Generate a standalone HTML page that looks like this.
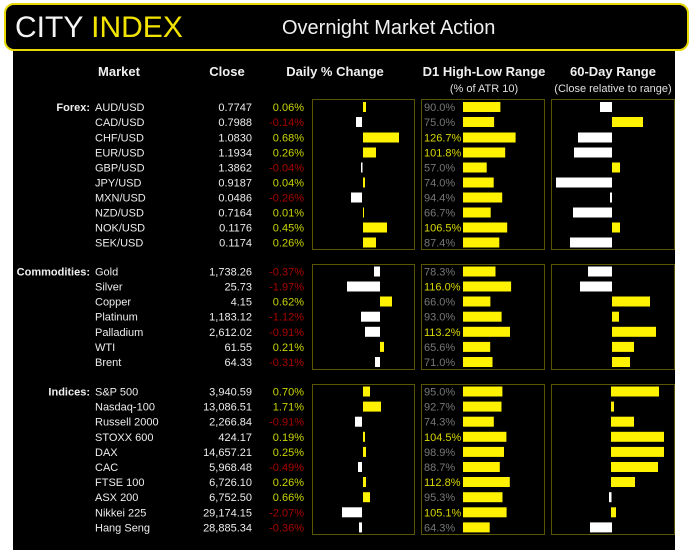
<!DOCTYPE html>
<html><head><meta charset="utf-8"><style>
html,body{margin:0;padding:0;background:#fff;width:697px;height:557px;overflow:hidden}
svg{display:block}
text{font-family:"Liberation Sans",sans-serif}
.n{fill:#ececec;font-size:11px}
.c{fill:#ececec;font-size:11px;text-anchor:end}
.p{fill:#c8d400;font-size:11px;text-anchor:end}
.m{fill:#a80000;font-size:11px;text-anchor:end}
.g{fill:#777;font-size:11px}
.y{fill:#d8d800;font-size:11px}
.h{fill:#f0f0f0;font-size:13px;font-weight:bold;text-anchor:middle}
.s{fill:#e0e0e0;font-size:11px;text-anchor:middle}
.l{fill:#f0f0f0;font-size:11px;font-weight:bold;text-anchor:end}
.b{fill:none;stroke:#5a5500;stroke-width:1}
.Y{fill:#fff200}
.W{fill:#fff}
</style></head><body>
<svg width="697" height="557" viewBox="0 0 697 557">
<rect x="13" y="40" width="662" height="510" fill="#000"/>
<rect x="5" y="4" width="683" height="46" rx="9" fill="#000" stroke="#e6d800" stroke-width="2"/>
<text x="15" y="37" style="font-size:30px" fill="#f4f4f4">CITY <tspan fill="#f2e400">INDEX</tspan></text>
<text x="282" y="34" style="font-size:20px" fill="#f0f0f0">Overnight Market Action</text>

<text class="h" x="119" y="76">Market</text>
<text class="h" x="227" y="76">Close</text>
<text class="h" x="335" y="76">Daily % Change</text>
<text class="h" x="484" y="76">D1 High-Low Range</text>
<text class="h" x="613" y="76">60-Day Range</text>
<text class="s" x="484" y="92">(% of ATR 10)</text>
<text class="s" x="613" y="92">(Close relative to range)</text>

<rect class="b" x="312.5" y="99.5" width="102" height="150"/>
<rect class="b" x="421.5" y="99.5" width="123" height="150"/>
<rect class="b" x="551.5" y="99.5" width="123" height="150"/>
<rect class="b" x="312.5" y="264.5" width="102" height="105"/>
<rect class="b" x="421.5" y="264.5" width="123" height="105"/>
<rect class="b" x="551.5" y="264.5" width="123" height="105"/>
<rect class="b" x="312.5" y="384.5" width="102" height="150"/>
<rect class="b" x="421.5" y="384.5" width="123" height="150"/>
<rect class="b" x="551.5" y="384.5" width="123" height="150"/>

<!-- Forex -->
<text class="l" x="90" y="111">Forex:</text>
<text class="n" x="95" y="111">AUD/USD</text><text class="c" x="252" y="111">0.7747</text><text class="p" x="304" y="111">0.06%</text>
<text class="n" x="95" y="126">CAD/USD</text><text class="c" x="252" y="126">0.7988</text><text class="m" x="304" y="126">-0.14%</text>
<text class="n" x="95" y="141.5">CHF/USD</text><text class="c" x="252" y="141.5">1.0830</text><text class="p" x="304" y="141.5">0.68%</text>
<text class="n" x="95" y="156.5">EUR/USD</text><text class="c" x="252" y="156.5">1.1934</text><text class="p" x="304" y="156.5">0.26%</text>
<text class="n" x="95" y="171.5">GBP/USD</text><text class="c" x="252" y="171.5">1.3862</text><text class="m" x="304" y="171.5">-0.04%</text>
<text class="n" x="95" y="186.5">JPY/USD</text><text class="c" x="252" y="186.5">0.9187</text><text class="p" x="304" y="186.5">0.04%</text>
<text class="n" x="95" y="201.5">MXN/USD</text><text class="c" x="252" y="201.5">0.0486</text><text class="m" x="304" y="201.5">-0.26%</text>
<text class="n" x="95" y="216.5">NZD/USD</text><text class="c" x="252" y="216.5">0.7164</text><text class="p" x="304" y="216.5">0.01%</text>
<text class="n" x="95" y="231.5">NOK/USD</text><text class="c" x="252" y="231.5">0.1176</text><text class="p" x="304" y="231.5">0.45%</text>
<text class="n" x="95" y="246.5">SEK/USD</text><text class="c" x="252" y="246.5">0.1174</text><text class="p" x="304" y="246.5">0.26%</text>

<rect class="Y" x="363" y="102" width="3" height="10"/>
<rect class="W" x="356" y="117" width="6" height="10"/>
<rect class="Y" x="363" y="132.5" width="36" height="10"/>
<rect class="Y" x="363" y="147.5" width="13" height="10"/>
<rect class="W" x="361" y="162.5" width="1.5" height="10"/>
<rect class="Y" x="363" y="177.5" width="2" height="10"/>
<rect class="W" x="351" y="192.5" width="11" height="10"/>
<rect class="Y" x="363" y="207.5" width="1" height="10"/>
<rect class="Y" x="363" y="222.5" width="24" height="10"/>
<rect class="Y" x="363" y="237.5" width="13" height="10"/>

<text class="g" x="424" y="111">90.0%</text><rect class="Y" x="463" y="102" width="37.4" height="10"/>
<text class="g" x="424" y="126">75.0%</text><rect class="Y" x="463" y="117" width="31.1" height="10"/>
<text class="y" x="424" y="141.5">126.7%</text><rect class="Y" x="463" y="132.5" width="52.6" height="10"/>
<text class="y" x="424" y="156.5">101.8%</text><rect class="Y" x="463" y="147.5" width="42.2" height="10"/>
<text class="g" x="424" y="171.5">57.0%</text><rect class="Y" x="463" y="162.5" width="23.7" height="10"/>
<text class="g" x="424" y="186.5">74.0%</text><rect class="Y" x="463" y="177.5" width="30.7" height="10"/>
<text class="g" x="424" y="201.5">94.4%</text><rect class="Y" x="463" y="192.5" width="39.2" height="10"/>
<text class="g" x="424" y="216.5">66.7%</text><rect class="Y" x="463" y="207.5" width="27.7" height="10"/>
<text class="y" x="424" y="231.5">106.5%</text><rect class="Y" x="463" y="222.5" width="44.2" height="10"/>
<text class="g" x="424" y="246.5">87.4%</text><rect class="Y" x="463" y="237.5" width="36.3" height="10"/>

<rect class="W" x="600" y="102" width="12" height="10"/>
<rect class="Y" x="612" y="117" width="31" height="10"/>
<rect class="W" x="578" y="132.5" width="34" height="10"/>
<rect class="W" x="574" y="147.5" width="38" height="10"/>
<rect class="Y" x="612" y="162.5" width="8" height="10"/>
<rect class="W" x="556" y="177.5" width="56" height="10"/>
<rect class="W" x="610" y="192.5" width="2" height="10"/>
<rect class="W" x="573" y="207.5" width="39" height="10"/>
<rect class="Y" x="612" y="222.5" width="8" height="10"/>
<rect class="W" x="570" y="237.5" width="42" height="10"/>

<!-- Commodities -->
<text class="l" x="90" y="275.5">Commodities:</text>
<text class="n" x="95" y="275.5">Gold</text><text class="c" x="252" y="275.5">1,738.26</text><text class="m" x="304" y="275.5">-0.37%</text>
<text class="n" x="95" y="290.5">Silver</text><text class="c" x="252" y="290.5">25.73</text><text class="m" x="304" y="290.5">-1.97%</text>
<text class="n" x="95" y="305.5">Copper</text><text class="c" x="252" y="305.5">4.15</text><text class="p" x="304" y="305.5">0.62%</text>
<text class="n" x="95" y="320.7">Platinum</text><text class="c" x="252" y="320.7">1,183.12</text><text class="m" x="304" y="320.7">-1.12%</text>
<text class="n" x="95" y="335.8">Palladium</text><text class="c" x="252" y="335.8">2,612.02</text><text class="m" x="304" y="335.8">-0.91%</text>
<text class="n" x="95" y="350.9">WTI</text><text class="c" x="252" y="350.9">61.55</text><text class="p" x="304" y="350.9">0.21%</text>
<text class="n" x="95" y="366">Brent</text><text class="c" x="252" y="366">64.33</text><text class="m" x="304" y="366">-0.31%</text>

<rect class="W" x="374" y="266.5" width="6" height="10"/>
<rect class="W" x="347" y="281.5" width="33" height="10"/>
<rect class="Y" x="380" y="296.5" width="12" height="10"/>
<rect class="W" x="361" y="311.7" width="19" height="10"/>
<rect class="W" x="365" y="326.8" width="15" height="10"/>
<rect class="Y" x="380" y="341.9" width="4" height="10"/>
<rect class="W" x="375" y="357" width="5" height="10"/>

<text class="g" x="424" y="275.5">78.3%</text><rect class="Y" x="463" y="266.5" width="32.5" height="10"/>
<text class="y" x="424" y="290.5">116.0%</text><rect class="Y" x="463" y="281.5" width="48.1" height="10"/>
<text class="g" x="424" y="305.5">66.0%</text><rect class="Y" x="463" y="296.5" width="27.4" height="10"/>
<text class="g" x="424" y="320.7">93.0%</text><rect class="Y" x="463" y="311.7" width="38.6" height="10"/>
<text class="y" x="424" y="335.8">113.2%</text><rect class="Y" x="463" y="326.8" width="47" height="10"/>
<text class="g" x="424" y="350.9">65.6%</text><rect class="Y" x="463" y="341.9" width="27.2" height="10"/>
<text class="g" x="424" y="366">71.0%</text><rect class="Y" x="463" y="357" width="29.5" height="10"/>

<rect class="W" x="588" y="266.5" width="24" height="10"/>
<rect class="W" x="580" y="281.5" width="32" height="10"/>
<rect class="Y" x="612" y="296.5" width="38" height="10"/>
<rect class="Y" x="612" y="311.7" width="7" height="10"/>
<rect class="Y" x="612" y="326.8" width="44" height="10"/>
<rect class="Y" x="612" y="341.9" width="22" height="10"/>
<rect class="Y" x="612" y="357" width="18" height="10"/>

<!-- Indices -->
<text class="l" x="90" y="395.5">Indices:</text>
<text class="n" x="95" y="395.5">S&amp;P 500</text><text class="c" x="252" y="395.5">3,940.59</text><text class="p" x="304" y="395.5">0.70%</text>
<text class="n" x="95" y="410.6">Nasdaq-100</text><text class="c" x="252" y="410.6">13,086.51</text><text class="p" x="304" y="410.6">1.71%</text>
<text class="n" x="95" y="425.7">Russell 2000</text><text class="c" x="252" y="425.7">2,266.84</text><text class="m" x="304" y="425.7">-0.91%</text>
<text class="n" x="95" y="440.8">STOXX 600</text><text class="c" x="252" y="440.8">424.17</text><text class="p" x="304" y="440.8">0.19%</text>
<text class="n" x="95" y="455.9">DAX</text><text class="c" x="252" y="455.9">14,657.21</text><text class="p" x="304" y="455.9">0.25%</text>
<text class="n" x="95" y="471">CAC</text><text class="c" x="252" y="471">5,968.48</text><text class="m" x="304" y="471">-0.49%</text>
<text class="n" x="95" y="486">FTSE 100</text><text class="c" x="252" y="486">6,726.10</text><text class="p" x="304" y="486">0.26%</text>
<text class="n" x="95" y="501.2">ASX 200</text><text class="c" x="252" y="501.2">6,752.50</text><text class="p" x="304" y="501.2">0.66%</text>
<text class="n" x="95" y="516.3">Nikkei 225</text><text class="c" x="252" y="516.3">29,174.15</text><text class="m" x="304" y="516.3">-2.07%</text>
<text class="n" x="95" y="531.4">Hang Seng</text><text class="c" x="252" y="531.4">28,885.34</text><text class="m" x="304" y="531.4">-0.36%</text>

<rect class="Y" x="363" y="386.5" width="7" height="10"/>
<rect class="Y" x="363" y="401.6" width="18" height="10"/>
<rect class="W" x="355" y="416.7" width="7" height="10"/>
<rect class="Y" x="363" y="431.8" width="2" height="10"/>
<rect class="Y" x="363" y="446.9" width="3" height="10"/>
<rect class="W" x="358" y="462" width="4" height="10"/>
<rect class="Y" x="363" y="477" width="3" height="10"/>
<rect class="Y" x="363" y="492.2" width="7" height="10"/>
<rect class="W" x="342" y="507.3" width="20" height="10"/>
<rect class="W" x="359" y="522.4" width="3" height="10"/>

<text class="g" x="424" y="395.5">95.0%</text><rect class="Y" x="463" y="386.5" width="39.4" height="10"/>
<text class="g" x="424" y="410.6">92.7%</text><rect class="Y" x="463" y="401.6" width="38.5" height="10"/>
<text class="g" x="424" y="425.7">74.3%</text><rect class="Y" x="463" y="416.7" width="30.8" height="10"/>
<text class="y" x="424" y="440.8">104.5%</text><rect class="Y" x="463" y="431.8" width="43.4" height="10"/>
<text class="g" x="424" y="455.9">98.9%</text><rect class="Y" x="463" y="446.9" width="41" height="10"/>
<text class="g" x="424" y="471">88.7%</text><rect class="Y" x="463" y="462" width="36.8" height="10"/>
<text class="y" x="424" y="486">112.8%</text><rect class="Y" x="463" y="477" width="46.8" height="10"/>
<text class="g" x="424" y="501.2">95.3%</text><rect class="Y" x="463" y="492.2" width="39.5" height="10"/>
<text class="y" x="424" y="516.3">105.1%</text><rect class="Y" x="463" y="507.3" width="43.6" height="10"/>
<text class="g" x="424" y="531.4">64.3%</text><rect class="Y" x="463" y="522.4" width="26.7" height="10"/>

<rect class="Y" x="611" y="386.5" width="48" height="10"/>
<rect class="Y" x="611" y="401.6" width="3" height="10"/>
<rect class="Y" x="611" y="416.7" width="23" height="10"/>
<rect class="Y" x="611" y="431.8" width="53" height="10"/>
<rect class="Y" x="611" y="446.9" width="53" height="10"/>
<rect class="Y" x="611" y="462" width="47" height="10"/>
<rect class="Y" x="611" y="477" width="24" height="10"/>
<rect class="W" x="609" y="492.2" width="2.5" height="10"/>
<rect class="Y" x="611" y="507.3" width="5" height="10"/>
<rect class="W" x="590" y="522.4" width="22" height="10"/>
</svg>
</body></html>
